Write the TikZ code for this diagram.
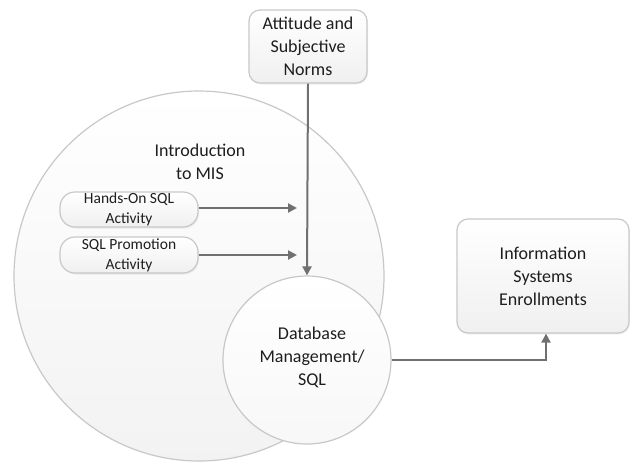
\documentclass[tikz,border=0pt]{standalone}
\usepackage{fontspec}
\setmainfont{Carlito}
\usetikzlibrary{arrows.meta,shadows,calc}
\definecolor{edgegray}{HTML}{C8C8C8}
\definecolor{arrowgray}{HTML}{707070}
\definecolor{txt}{HTML}{1E1E1E}
\tikzset{
  bigfont/.style={font=\fontsize{18}{23}\selectfont, text=txt, align=center},
  smallfont/.style={font=\fontsize{15.5}{20}\selectfont, text=txt, align=center},
  roundbox/.style={draw=edgegray, line width=1.2pt, rounded corners=11pt,
    top color=white, bottom color=black!6,
    drop shadow={opacity=0.12, shadow xshift=1pt, shadow yshift=-1.5pt}},
  pillbox/.style={draw=edgegray, line width=1.2pt, rounded corners=15pt,
    top color=white, bottom color=black!6,
    drop shadow={opacity=0.12, shadow xshift=1pt, shadow yshift=-1.5pt},
    minimum width=138pt, inner sep=0pt},
  bubble/.style={circle, draw=edgegray, line width=1.2pt, inner sep=0pt,
    top color=white, bottom color=black!5},
  flow/.style={draw=arrowgray, line width=2pt,
    -{Triangle[length=9pt,width=9pt]}}
}
\begin{document}
\begin{tikzpicture}[x=1pt,y=-1pt]
\useasboundingbox (0,0) rectangle (631,461);
% big circle
\node[bubble, minimum size=370pt] (mis) at (199,276) {};
\node[bigfont] (mislabel) at (200,161.5) {Introduction\\to MIS};
% small circle
\node[bubble, minimum size=168pt, top color=white, bottom color=black!3] (db) at (307,360) {};
\node[bigfont] (dblabel) at (312,357) {Database\\Management/\\SQL};
% boxes
\node[pillbox, minimum height=35pt, smallfont] (hands) at (129,209.5) {Hands-On SQL\\Activity};
\node[pillbox, minimum height=36pt, smallfont] (promo) at (129,255) {SQL Promotion\\Activity};
\node[roundbox, minimum width=118pt, minimum height=73pt, bigfont, inner sep=0pt] (att) at (308,46.5) {Attitude and\\Subjective\\Norms};
\node[roundbox, minimum width=172pt, minimum height=114pt, bigfont, inner sep=0pt] (info) at (543,276) {Information\\Systems\\Enrollments};
% free ends
\coordinate (h1) at (297,208);
\coordinate (h2) at (297,255);
% connectors
\draw[flow] (hands.east |- h1) -- (h1);
\draw[flow] (promo.east |- h2) -- (h2);
\draw[flow] (att.south) -- (db.north);
\draw[flow] (db.east) -| ($(info.south)+(3,0)$);
\end{tikzpicture}
\end{document}
